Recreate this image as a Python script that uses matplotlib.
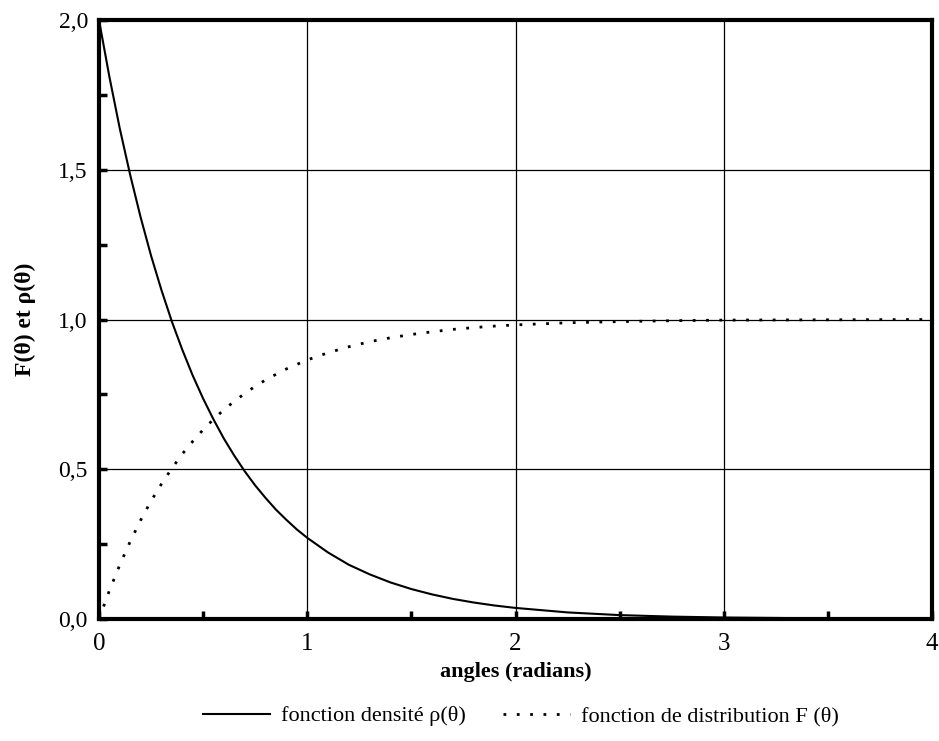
import matplotlib
matplotlib.use("Agg")
import matplotlib.pyplot as plt
from matplotlib.ticker import MultipleLocator, FixedLocator

plt.rcParams['font.family'] = ['Liberation Serif', 'DejaVu Serif']

# angles (radians)
theta = [0.0, 0.05, 0.1, 0.15, 0.2, 0.25, 0.3, 0.35, 0.4, 0.45,
         0.5, 0.55, 0.6, 0.65, 0.7, 0.75, 0.8, 0.85, 0.9, 0.95,
         1.0, 1.1, 1.2, 1.3, 1.4, 1.5, 1.6, 1.7, 1.8, 1.9,
         2.0, 2.25, 2.5, 2.75, 3.0, 3.5, 4.0]

# fonction densite rho(theta)
rho = [2.000, 1.810, 1.637, 1.482, 1.341, 1.213, 1.098, 0.993, 0.899, 0.813,
       0.736, 0.666, 0.602, 0.545, 0.493, 0.446, 0.404, 0.365, 0.331, 0.299,
       0.271, 0.222, 0.181, 0.149, 0.122, 0.100, 0.082, 0.067, 0.055, 0.045,
       0.037, 0.022, 0.013, 0.008, 0.005, 0.002, 0.001]

# fonction de distribution F(theta)
F = [0.000, 0.095, 0.181, 0.259, 0.330, 0.394, 0.451, 0.503, 0.551, 0.593,
     0.632, 0.667, 0.699, 0.727, 0.753, 0.777, 0.798, 0.817, 0.835, 0.850,
     0.865, 0.889, 0.909, 0.926, 0.939, 0.950, 0.959, 0.967, 0.973, 0.978,
     0.982, 0.989, 0.993, 0.996, 0.998, 0.999, 1.000]

x_ticks = [0, 1, 2, 3, 4]
x_labels = ["0", "1", "2", "3", "4"]
y_ticks = [0.0, 0.5, 1.0, 1.5, 2.0]
y_labels = ["0,0", "0,5", "1,0", "1,5", "2,0"]

fig = plt.figure(figsize=(9.39, 7.41), dpi=100)
ax = fig.add_axes([99 / 939, 1 - 619 / 741, (932 - 99) / 939, (619 - 20) / 741])

ax.plot(theta, rho, color='black', lw=1.5, label='fonction densité ρ(θ)')
ax.plot(theta, F, color='black', lw=2.0, linestyle=(0, (1, 3.8)),
        label='fonction de distribution F (θ)')

ax.set_xlim(0, 4)
ax.set_ylim(0, 2)
ax.xaxis.set_major_locator(FixedLocator(x_ticks))
ax.yaxis.set_major_locator(FixedLocator(y_ticks))
ax.set_xticklabels(x_labels)
ax.set_yticklabels(y_labels)
ax.xaxis.set_minor_locator(MultipleLocator(0.5))
ax.yaxis.set_minor_locator(MultipleLocator(0.25))
ax.tick_params(which='both', direction='in', length=6, width=2.5,
               top=False, right=False, color='black')
ax.tick_params(axis='x', labelsize=18, pad=10)
ax.tick_params(axis='y', labelsize=17, pad=8)

ax.grid(True, which='major', color='black', lw=0.9)
ax.set_axisbelow(True)
for s in ax.spines.values():
    s.set_linewidth(3)

ax.set_xlabel('angles (radians)', fontsize=16, fontweight='bold', labelpad=5)
ax.set_ylabel('F(θ) et ρ(θ)', fontsize=17, fontweight='bold', labelpad=16)

fig.legend(loc='center', bbox_to_anchor=(521 / 939, 1 - 716 / 741), ncol=2,
           frameon=False, fontsize=16, handlelength=3.0, handletextpad=0.5,
           columnspacing=1.7)

fig.savefig('out.png', dpi=100)
